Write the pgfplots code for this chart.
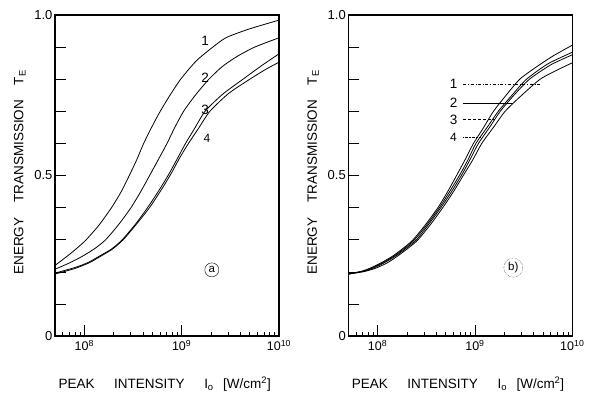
\documentclass[border=0pt]{standalone}
\usepackage{pgfplots}
\pgfplotsset{compat=1.18}
\usepackage{fontspec}
\setmainfont{Liberation Sans}

\pgfplotstableread{
lx y
7.699 0.220
7.83 0.250
7.93 0.275
8.02 0.300
8.15 0.345
8.28 0.400
8.38 0.450
8.47 0.505
8.54 0.550
8.61 0.600
8.70 0.655
8.78 0.700
8.88 0.750
8.99 0.800
9.15 0.857
9.32 0.900
9.46 0.930
9.70 0.957
10.0 0.984
}\LA

\pgfplotstableread{
lx y
7.699 0.208
7.85 0.228
7.99 0.250
8.11 0.273
8.22 0.300
8.36 0.350
8.48 0.400
8.58 0.450
8.68 0.505
8.77 0.555
8.85 0.600
8.93 0.650
9.02 0.700
9.14 0.750
9.28 0.800
9.42 0.840
9.57 0.871
9.75 0.900
10.0 0.929
}\LB

\pgfplotstableread{
lx y
7.699 0.196
7.90 0.213
8.04 0.229
8.15 0.248
8.28 0.271
8.39 0.300
8.53 0.350
8.65 0.400
8.77 0.455
8.87 0.505
8.96 0.555
9.04 0.600
9.14 0.650
9.24 0.700
9.42 0.753
9.63 0.800
9.82 0.842
10.0 0.879
}\LC

\pgfplotstableread{
lx y
7.699 0.193
7.90 0.210
8.05 0.228
8.16 0.247
8.29 0.271
8.40 0.300
8.54 0.350
8.67 0.400
8.79 0.455
8.89 0.505
8.98 0.555
9.07 0.600
9.18 0.650
9.29 0.700
9.48 0.755
9.70 0.800
9.86 0.830
10.0 0.853
}\LD

\pgfplotstableread{
lx y
7.699 0.193
7.85 0.203
7.95 0.215
8.06 0.232
8.16 0.250
8.27 0.275
8.365 0.300
8.50 0.350
8.62 0.400
8.72 0.450
8.82 0.505
8.90 0.550
8.985 0.600
9.09 0.650
9.19 0.700
9.32 0.750
9.46 0.800
9.63 0.838
9.80 0.872
10.0 0.906
}\RA

\pgfplotstableread{
lx y
7.699 0.193
7.85 0.202
7.95 0.213
8.07 0.231
8.175 0.250
8.285 0.275
8.38 0.300
8.515 0.350
8.635 0.400
8.74 0.450
8.85 0.505
8.93 0.550
9.01 0.600
9.125 0.650
9.24 0.700
9.38 0.750
9.53 0.800
9.75 0.848
10.0 0.884
}\RB

\pgfplotstableread{
lx y
7.699 0.193
7.85 0.201
7.96 0.212
8.08 0.230
8.19 0.250
8.30 0.275
8.40 0.300
8.53 0.350
8.65 0.400
8.76 0.450
8.87 0.505
8.95 0.550
9.036 0.600
9.15 0.650
9.26 0.700
9.40 0.750
9.56 0.800
9.78 0.845
10.0 0.876
}\RC

\pgfplotstableread{
lx y
7.699 0.193
7.85 0.200
7.97 0.210
8.10 0.228
8.21 0.250
8.32 0.275
8.416 0.300
8.55 0.350
8.67 0.400
8.78 0.450
8.89 0.505
8.98 0.550
9.07 0.600
9.19 0.650
9.31 0.700
9.48 0.750
9.67 0.800
9.84 0.828
10.0 0.851
}\RD

\newcommand\lblsize{\fontsize{13.5}{16}\selectfont}

\pgfplotsset{
  panel/.style={
    anchor=south west, scale only axis,
    width=224pt, height=321pt,
    xmin=7.699, xmax=10, ymin=0, ymax=1,
    xtick={8,9,10},
    xticklabels={10\textsuperscript{8},10\textsuperscript{9},10\textsuperscript{10}},
    minor xtick={7.778,7.845,7.903,7.954,8.301,8.477,8.602,8.699,8.778,8.845,8.903,8.954,9.301,9.477,9.602,9.699,9.778,9.845,9.903,9.954},
    ytick={0,0.1,0.2,0.3,0.4,0.5,0.6,0.7,0.8,0.9,1.0},
    yticklabels={0,,,,,0.5,,,,,1.0},
    tick align=inside,
    xtick pos=bottom, ytick pos=left,
    major tick length=11pt, minor tick length=4pt,
    every tick/.style={black, line width=0.6pt},
    axis line style={line width=1.1pt},
    yticklabel style={font=\fontsize{13}{15}\selectfont, xshift=1pt},
    xticklabel style={font=\fontsize{12.5}{14}\selectfont, yshift=-1pt},
    every axis x label/.style={at={(axis description cs:0.49,-0.15)}, anchor=center, font=\lblsize},
    every axis y label/.style={at={(axis description cs:-0.157,0.51)}, rotate=90, anchor=center, font=\lblsize},
    xlabel={PEAK\hspace{1.45em}INTENSITY\hspace{1.45em}I\textsubscript{o}\hspace{0.7em}[W/cm\textsuperscript{2}]},
    ylabel={ENERGY\hspace{1.1em}TRANSMISSION\hspace{1.1em}T\textsubscript{E}},
    clip=true,
  },
  curve/.style={black, line width=0.8pt, smooth, tension=0.4, no marks},
}

\begin{document}
\begin{tikzpicture}[x=1pt,y=1pt]
\useasboundingbox (0,0) rectangle (595,397);

\begin{axis}[panel, at={(55pt,61pt)}]
\addplot[curve] table[x=lx,y=y] {\LA};
\addplot[curve] table[x=lx,y=y] {\LB};
\addplot[curve] table[x=lx,y=y] {\LC};
\addplot[curve] table[x=lx,y=y] {\LD};
\node[font=\fontsize{13.5}{15}\selectfont] at (axis cs:9.24,0.918) {1};
\node[font=\fontsize{13.5}{15}\selectfont] at (axis cs:9.24,0.804) {2};
\node[font=\fontsize{13.5}{15}\selectfont] at (axis cs:9.24,0.705) {3};
\node[font=\fontsize{12}{13}\selectfont] at (axis cs:9.26,0.615) {4};
\node[circle, draw, line width=0.4pt, inner sep=1.8pt, font=\fontsize{11.5}{12}\selectfont] at (axis cs:9.31,0.206) {a};
\end{axis}

\begin{axis}[panel, at={(348.3pt,61pt)}]
\addplot[curve] table[x=lx,y=y] {\RA};
\addplot[curve] table[x=lx,y=y] {\RB};
\addplot[curve] table[x=lx,y=y] {\RC};
\addplot[curve] table[x=lx,y=y] {\RD};
\node[font=\fontsize{13.5}{15}\selectfont] at (axis cs:8.78,0.785) {1};
\node[font=\fontsize{13.5}{15}\selectfont] at (axis cs:8.78,0.726) {2};
\node[font=\fontsize{13.5}{15}\selectfont] at (axis cs:8.78,0.674) {3};
\node[font=\fontsize{12}{13}\selectfont] at (axis cs:8.78,0.620) {4};
\draw[line width=0.4pt, dash dot] (axis cs:8.88,0.785) -- (axis cs:9.667,0.785);
\draw[line width=0.4pt] (axis cs:8.88,0.726) -- (axis cs:9.394,0.726);
\draw[line width=0.4pt, densely dashed] (axis cs:8.88,0.674) -- (axis cs:9.207,0.674);
\draw[line width=0.4pt, densely dotted] (axis cs:8.88,0.620) -- (axis cs:9.053,0.620);
\node[circle, draw, densely dotted, line width=0.4pt, inner sep=1.5pt, font=\fontsize{11.5}{12}\selectfont] at (axis cs:9.394,0.213) {b)};
\end{axis}
\end{tikzpicture}
\end{document}
